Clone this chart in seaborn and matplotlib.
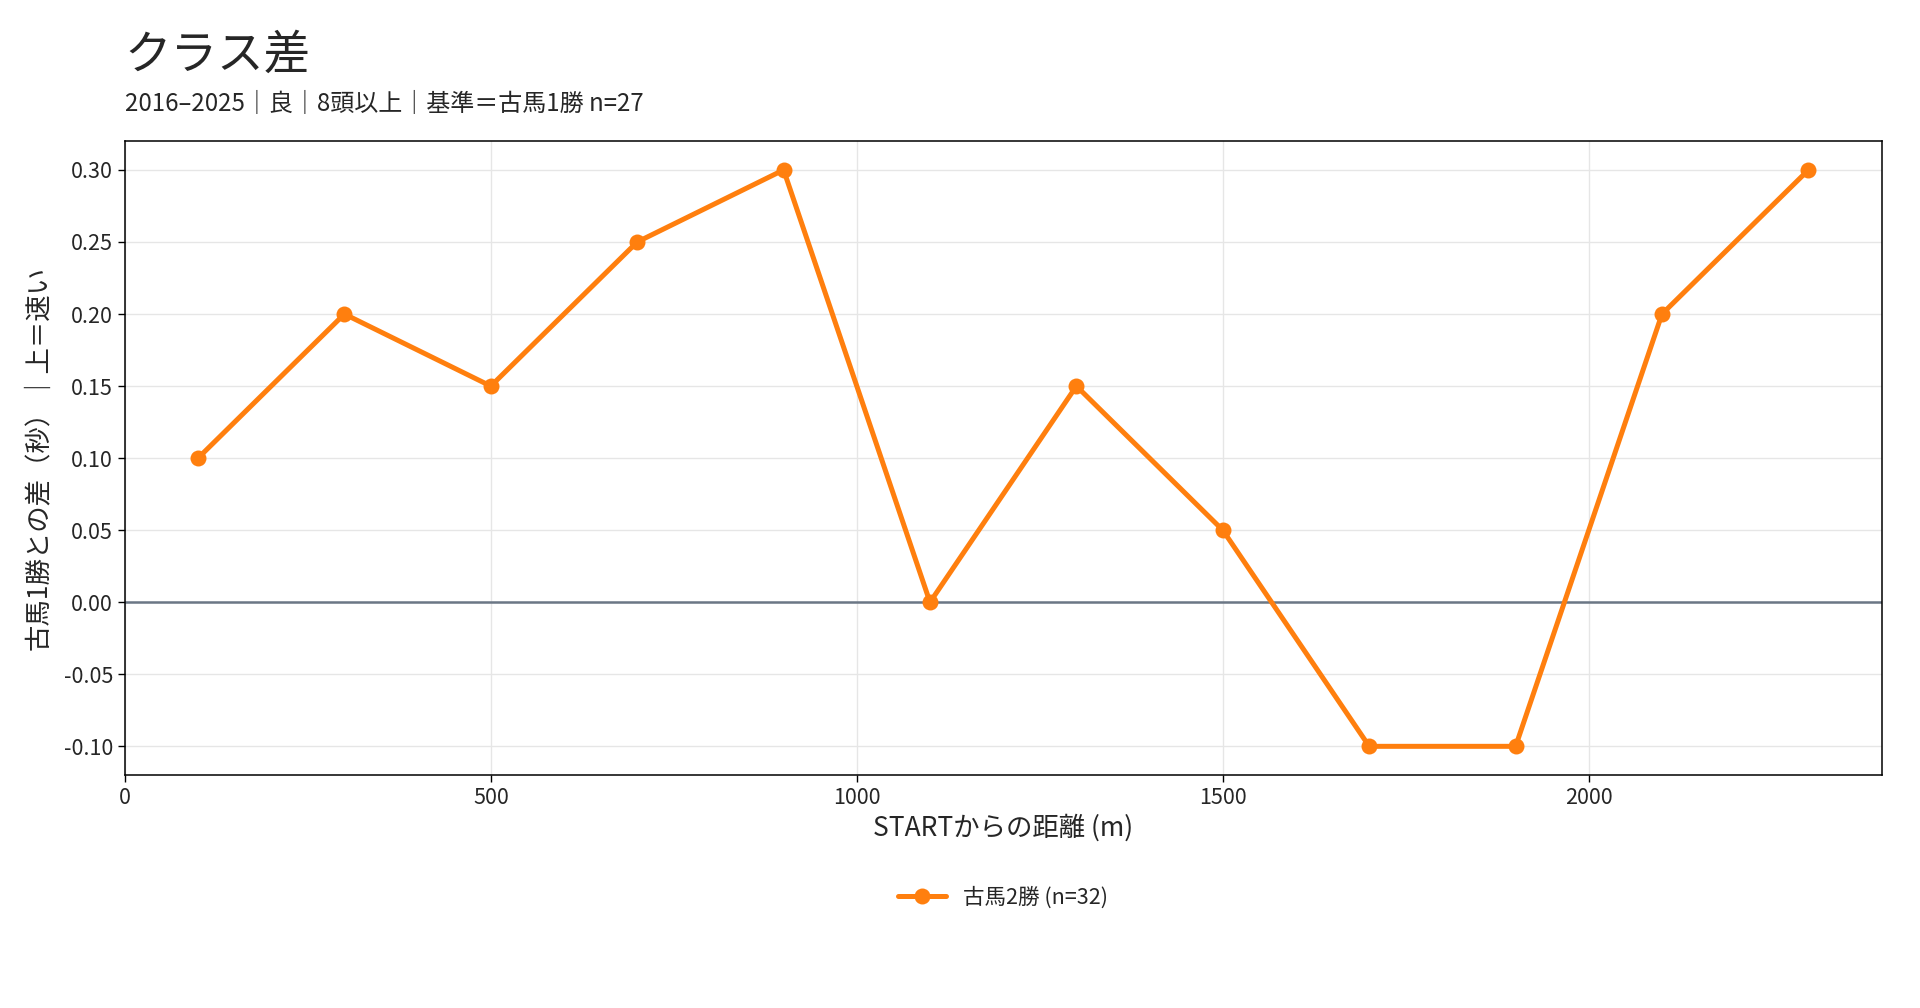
import numpy as np
import pandas as pd
import seaborn as sns
import matplotlib.pyplot as plt

# data
dist = [100, 300, 500, 700, 900, 1100, 1300, 1500, 1700, 1900, 2100, 2300]
diff = [0.10, 0.20, 0.15, 0.25, 0.30, 0.00, 0.15, 0.05, -0.10, -0.10, 0.20, 0.30]
series_name = "古馬2勝 (n=32)"
title = "クラス差"
subtitle = "2016–2025｜良｜8頭以上｜基準＝古馬1勝 n=27"
xticks = [0, 500, 1000, 1500, 2000]
yticks = [-0.10, -0.05, 0.00, 0.05, 0.10, 0.15, 0.20, 0.25, 0.30]

df = pd.DataFrame({"dist": dist, "diff": diff, "cls": series_name})

sns.set_theme(style="ticks")
plt.rcParams['font.family'] = ['Noto Sans CJK JP', 'DejaVu Sans']
plt.rcParams['axes.unicode_minus'] = False

fig = plt.figure(figsize=(19.2, 10.08), dpi=100)
ax = fig.add_axes([0.065, 0.231, 0.915, 0.629])

sns.lineplot(data=df, x="dist", y="diff", hue="cls", palette=["#ff7f0e"],
             marker="o", markersize=11.5, markeredgewidth=0, linewidth=3.6, ax=ax)

ax.axhline(0, color="#6b7785", linewidth=1.8, zorder=1)
ax.grid(True, color="#e6e6e6", linewidth=1)
ax.set_axisbelow(True)

ax.set_xlim(0, 2400)
ax.set_ylim(-0.12, 0.32)
ax.set_xticks(xticks)
ax.set_yticks(yticks)
ax.set_yticklabels(["%.2f" % v for v in yticks])
ax.tick_params(labelsize=15.5, length=5, width=1, color="black")
for s in ax.spines.values():
    s.set_color("black")
    s.set_linewidth(1.1)

ax.set_xlabel("STARTからの距離 (m)", fontsize=19, labelpad=4)
ax.set_ylabel("古馬1勝との差（秒）｜上＝速い", fontsize=19, labelpad=8)

ax.legend(loc="upper center", bbox_to_anchor=(0.5, -0.145), frameon=False,
          fontsize=15.5, handlelength=2.2)

fig.text(0.065, 0.945, title, fontsize=33.5, ha="left", va="center")
fig.text(0.065, 0.897, subtitle, fontsize=17.3, ha="left", va="center")

fig.savefig("out.png", dpi=100)
